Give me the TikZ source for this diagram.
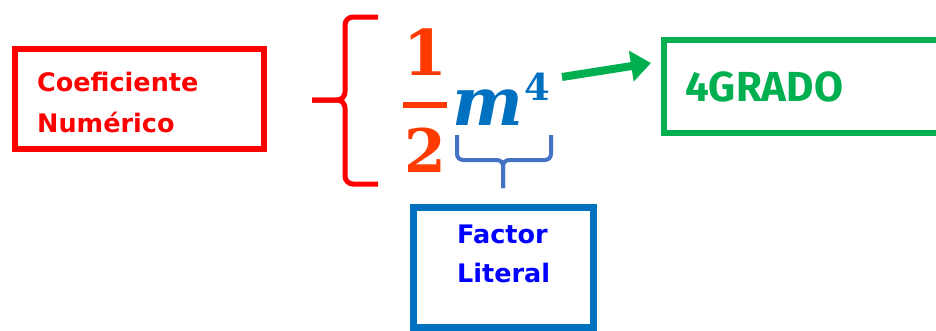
\documentclass[tikz,border=0pt]{standalone}
\usepackage{fontspec}
\setmainfont{Fira Sans}
\newfontfamily\serifbf{DejaVu Serif}
\newfontfamily\boxfont{DejaVu Sans}
\usetikzlibrary{arrows.meta}
\definecolor{boxred}{HTML}{FF0000}
\definecolor{boxgreen}{HTML}{00B050}
\definecolor{boxblue}{HTML}{0070C0}
\definecolor{txtblue}{HTML}{0000FF}
\definecolor{braceblue}{HTML}{4472C4}
\definecolor{fracred}{HTML}{FF3A00}
\tikzset{
  lbl/.style={inner sep=0pt, anchor=base west, font=\boxfont\bfseries\fontsize{25.5}{30}\selectfont},
  frame/.style={line width=6pt},
}
\begin{document}
\begin{tikzpicture}[x=1pt,y=-1pt]
\useasboundingbox (0,0) rectangle (936,330);
\clip (0,0) rectangle (936,330);
\fill[white] (0,0) rectangle (936,330);
% red box
\draw[frame, boxred] (15,49) rectangle (264,149);
\node[lbl, text=boxred] (coef) at (37,91) {Coeficiente};
\node[lbl, text=boxred] (num) at (37,132) {Numérico};
% red brace
\draw[line width=5pt, boxred, rounded corners=8pt] (378,17) -- (345,17) -- (345,100) -- (312,100);
\draw[line width=5pt, boxred, rounded corners=8pt] (378,184) -- (345,184) -- (345,100) -- (312,100);
% fraction
\node[inner sep=0pt, anchor=base, text=fracred, font=\serifbf\bfseries\fontsize{63}{70}\selectfont] (one) at (425,75) {1};
\node[inner sep=0pt, anchor=base, text=fracred, font=\serifbf\bfseries\fontsize{60}{70}\selectfont] (two) at (425,172) {2};
\draw[line width=6pt, fracred] (403,105) -- (447,105);
% m^4
\node[inner sep=0pt, anchor=base west, text=boxblue, font=\serifbf\bfseries\itshape\fontsize{67}{80}\selectfont] (m) at (452,125) {m};
\node[inner sep=0pt, anchor=base west, text=boxblue, font=\serifbf\bfseries\fontsize{37}{44}\selectfont] (four) at ([xshift=1pt,yshift=25pt]m.base east) {4};
% blue brace
\draw[line width=4pt, braceblue, rounded corners=6pt] (457,135) -- (457,160) -- (503,160) -- (503,188);
\draw[line width=4pt, braceblue, rounded corners=6pt] (551,135) -- (551,160) -- (503,160) -- (503,188);
% green arrow
\coordinate (astart) at (562,77);
\coordinate (aend) at (651,63);
\draw[line width=8pt, boxgreen, -{Triangle[length=20pt,width=30pt]}] (astart) -- (aend);
% green box
\draw[frame, boxgreen] (663.5,40) rectangle (960,132.5);
\node[inner sep=0pt, anchor=base west, text=boxgreen, font=\bfseries\fontsize{42}{50}\selectfont] (grado) at (685,101) {4GRADO};
% blue box
\draw[line width=7pt, boxblue] (413.5,207.5) rectangle (593.5,327);
\node[lbl, text=txtblue] (factor) at (457,243) {Factor};
\node[lbl, text=txtblue] (literal) at (457,282) {Literal};
\end{tikzpicture}
\end{document}
